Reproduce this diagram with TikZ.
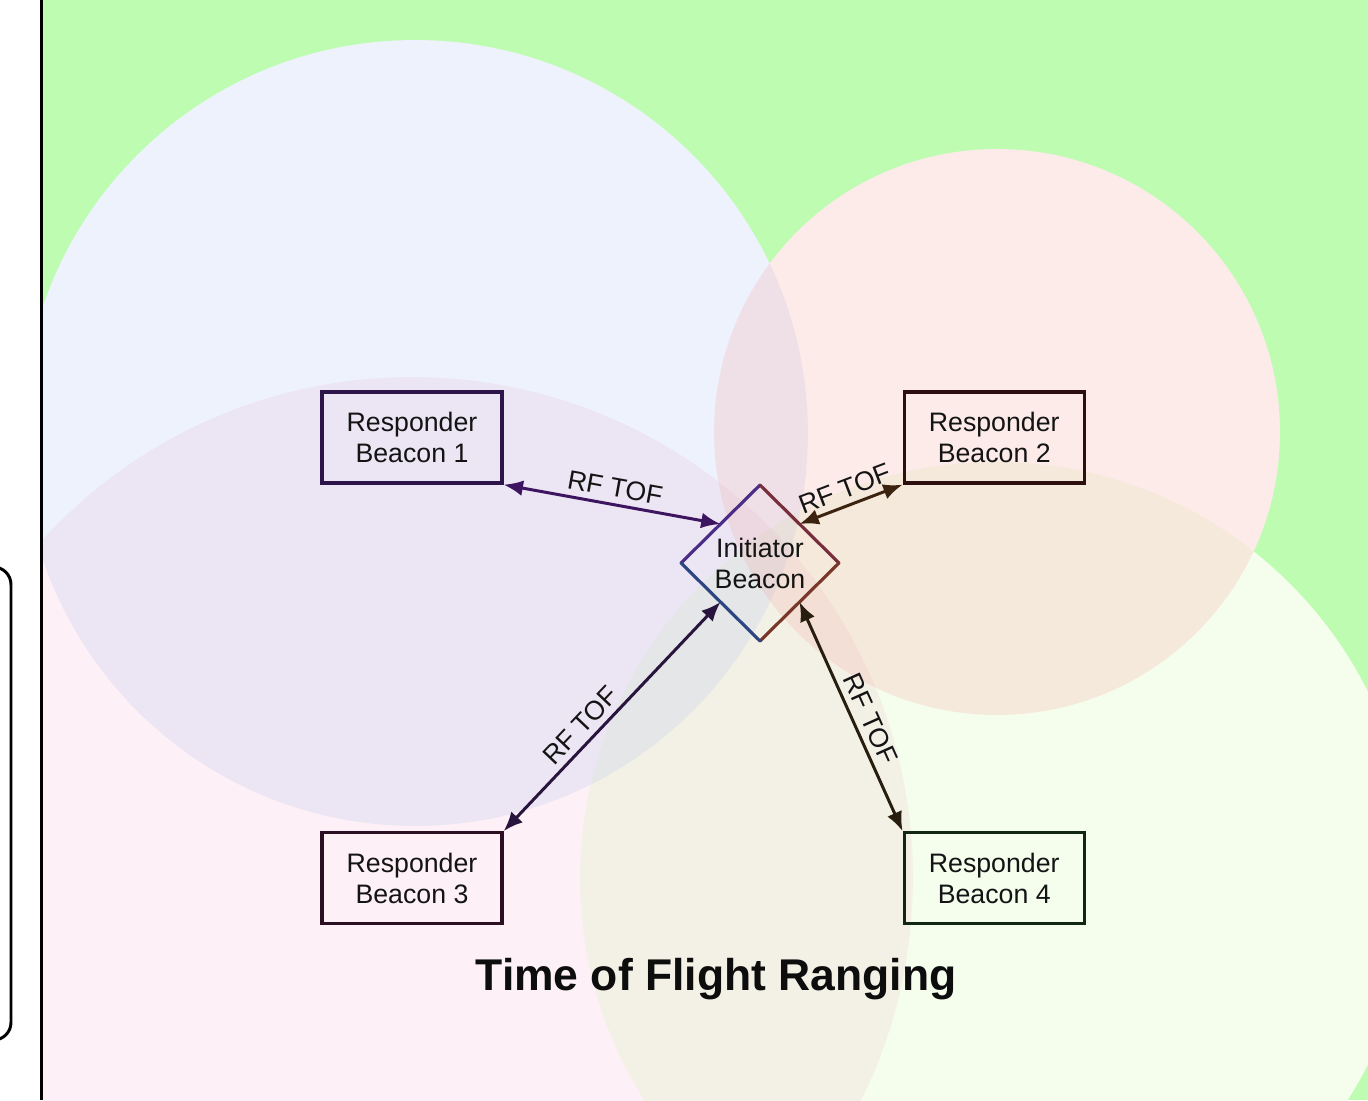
\documentclass[tikz,border=0pt]{standalone}
\usepackage{fontspec}
\setmainfont{Liberation Sans}
\usetikzlibrary{arrows.meta,positioning,shapes.geometric,backgrounds}

\definecolor{bggreen}{RGB}{190,252,178}
\definecolor{rangeone}{RGB}{170,190,240}
\definecolor{rangetwo}{RGB}{245,155,150}
\definecolor{rangethree}{RGB}{245,180,210}
\definecolor{rangefour}{RGB}{205,245,165}
\definecolor{edgeone}{RGB}{45,20,75}
\definecolor{edgetwo}{RGB}{45,15,15}
\definecolor{edgethree}{RGB}{45,15,35}
\definecolor{edgefour}{RGB}{15,40,15}
\definecolor{arrowone}{RGB}{60,20,95}
\definecolor{arrowtwo}{RGB}{60,35,15}
\definecolor{arrowthree}{RGB}{40,20,60}
\definecolor{arrowfour}{RGB}{40,30,15}
\definecolor{dianw}{RGB}{75,45,135}
\definecolor{diane}{RGB}{120,45,60}
\definecolor{diase}{RGB}{120,55,40}
\definecolor{diasw}{RGB}{45,70,130}

\begin{document}
\begin{tikzpicture}[x=0.02cm, y=-0.02cm, font=\fontsize{15.2pt}{17.6pt}\selectfont,
 beacon/.style={draw,line width=1.9pt,align=center,minimum width=3.6cm,minimum height=1.82cm,inner sep=0pt,text=black!92},
 initiator/.style={diamond,aspect=1,align=center,minimum width=3.16cm,minimum height=3.12cm,inner sep=0pt,outer sep=0pt,text=black!92},
 tof/.style={line width=1.7pt,<->},
 >={Latex[length=11pt,width=9pt]}]
\useasboundingbox (0,0) rectangle (1368,1100);
\node[initiator] (init) at (760,563) {Initiator\\Beacon};
\node[beacon,draw=edgeone] (b1) at (412,437.5) {Responder\\Beacon 1};
\node[beacon,draw=edgetwo,right=7.98cm of b1] (b2) {Responder\\Beacon 2};
\node[beacon,draw=edgethree,below=6.93cm of b1] (b3) {Responder\\Beacon 3};
\node[beacon,draw=edgefour,right=7.98cm of b3] (b4) {Responder\\Beacon 4};
\foreach \a/\b/\c in {west/north/dianw,north/east/diane,east/south/diase,south/west/diasw}
 \draw[line width=1.8pt,line cap=round,\c] (init.\a) -- (init.\b);
\foreach \a/\b/\c/\p in {b1.south east/init.north west/arrowone/0.5,init.north east/b2.south west/arrowtwo/0.5,b3.north east/init.south west/arrowthree/0.41,init.south east/b4.north west/arrowfour/0.54}
 \draw[tof,\c] (\a) -- node[sloped,above,pos=\p,text=black!92]{RF TOF} (\b);
\node[font=\fontsize{25.3pt}{30pt}\selectfont\bfseries,anchor=base,text=black!95] (title) at (716,990) {Time of Flight Ranging};
% ranges and page frame
\begin{scope}[on background layer]
 \fill[white] (0,0) rectangle (1368,1100);
 \clip (43,0) rectangle (1368,1100);
 \fill[bggreen] (43,0) rectangle (1368,1100);
 \fill[white] (415,433) circle[radius=7.86cm] (997,432) circle[radius=5.66cm] (412,878) circle[radius=10.02cm] (996,878) circle[radius=8.32cm];
 \foreach \x/\y/\r/\c in {412/878/10.02/rangethree,996/878/8.32/rangefour,415/433/7.86/rangeone,997/432/5.66/rangetwo}
  \fill[\c,fill opacity=0.2] (\x,\y) circle[radius=\r cm];
\end{scope}
\draw[line width=1.7pt] (41.5,0) -- (41.5,1100);
\draw[line width=1.7pt,rounded corners=10pt] (-40,567) rectangle (11,1040);
\end{tikzpicture}
\end{document}
